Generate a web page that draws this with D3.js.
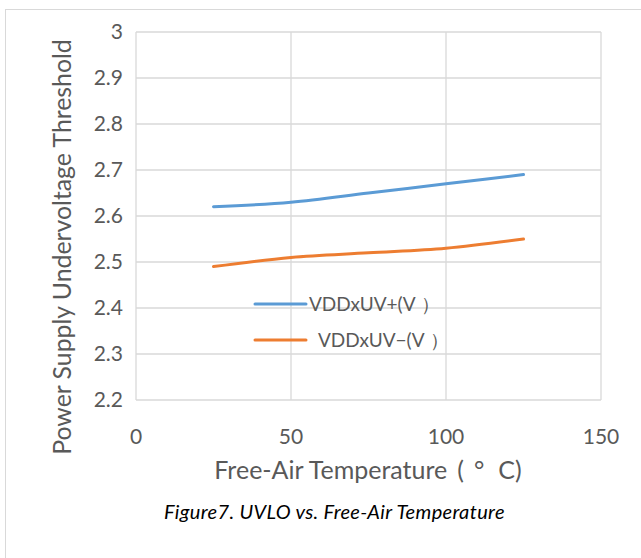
<!DOCTYPE html>
<html><head><meta charset="utf-8">
<script src="https://cdn.jsdelivr.net/npm/d3@7/dist/d3.min.js"></script>
<style>body{margin:0;background:#fff;}svg{display:block;}</style>
</head><body><svg id="c" width="641" height="558"></svg>
<script>
const temps = [25, 50, 75, 100, 125];
const uvPlus = [2.62, 2.63, 2.65, 2.67, 2.69];
const uvMinus = [2.49, 2.51, 2.52, 2.53, 2.55];
const seriesNames = ["VDDxUV+(V", "VDDxUV−(V"];
const xTicks = [0, 50, 100, 150];
const yTicks = [2.2, 2.3, 2.4, 2.5, 2.6, 2.7, 2.8, 2.9, 3];
const colors = ["#5b9bd5", "#ed7d31"];

const svg = d3.select("#c");
const font = "Lato, 'Open Sans', sans-serif";
svg.append("rect").attr("x",5.5).attr("y",9.5).attr("width",700).attr("height",700)
  .attr("fill","none").attr("stroke","#d9d9d9");

const x = d3.scaleLinear().domain([0,150]).range([136,601]);
const y = d3.scaleLinear().domain([2.2,3]).range([400,32]);

const g = svg.append("g");
g.selectAll(".hg").data(yTicks).join("line")
  .attr("x1",x(0)).attr("x2",x(150)).attr("y1",d=>y(d)).attr("y2",d=>y(d))
  .attr("stroke","#d9d9d9").attr("stroke-width",1.3);
g.selectAll(".vg").data(xTicks).join("line")
  .attr("y1",y(2.2)).attr("y2",y(3)).attr("x1",d=>x(d)).attr("x2",d=>x(d))
  .attr("stroke","#d9d9d9").attr("stroke-width",1.3);

g.selectAll(".yl").data(yTicks).join("text")
  .attr("x",123).attr("y",d=>y(d)).attr("dy","0.35em").attr("text-anchor","end")
  .attr("font-family",font).attr("font-size",21).attr("fill","#595959")
  .text(d=>d3.format("")(d));
g.selectAll(".xl").data(xTicks).join("text")
  .attr("x",d=>x(d)).attr("y",437).attr("dy","0.35em").attr("text-anchor","middle")
  .attr("font-family",font).attr("font-size",21).attr("fill","#595959")
  .text(d=>d);

const line = d3.line().x(d=>x(d[0])).y(d=>y(d[1])).curve(d3.curveMonotoneX);
[uvPlus, uvMinus].forEach((vals,i)=>{
  g.append("path").attr("d", line(temps.map((t,j)=>[t,vals[j]])))
    .attr("fill","none").attr("stroke",colors[i]).attr("stroke-width",3).attr("stroke-linecap","round");
});

// legend
const leg = [{y:304, tx:309},{y:340, tx:318}];
leg.forEach((L,i)=>{
  svg.append("line").attr("x1",255).attr("x2",306).attr("y1",L.y).attr("y2",L.y)
    .attr("stroke",colors[i]).attr("stroke-width",3).attr("stroke-linecap","round");
  const t = svg.append("text").attr("x",L.tx).attr("y",L.y).attr("dy","0.35em")
    .attr("font-family",font).attr("font-size",19).attr("fill","#595959");
  t.append("tspan").text(seriesNames[i]);
  t.append("tspan").attr("dx",5).text("）");
});

const xt = svg.append("text").attr("x",368).attr("y",470).attr("dy","0.35em").attr("text-anchor","middle")
  .attr("font-family",font).attr("font-size",25).attr("fill","#595959");
xt.append("tspan").text("Free-Air Temperature");
xt.append("tspan").attr("dx",10).text("(");
xt.append("tspan").attr("dx",10).text("°");
xt.append("tspan").attr("dx",14).text("C)");
svg.append("text").attr("transform","translate(62,247) rotate(-90)").attr("dy","0.35em")
  .attr("text-anchor","middle").attr("font-family",font).attr("font-size",24.8).attr("fill","#595959")
  .text("Power Supply Undervoltage Threshold");
svg.append("text").attr("x",164).attr("y",512).attr("dy","0.35em")
  .attr("font-family",font).attr("font-size",20).attr("font-style","italic").attr("fill","#000")
  .attr("letter-spacing",0.35)
  .text("Figure7. UVLO vs. Free-Air Temperature");
</script></body></html>
